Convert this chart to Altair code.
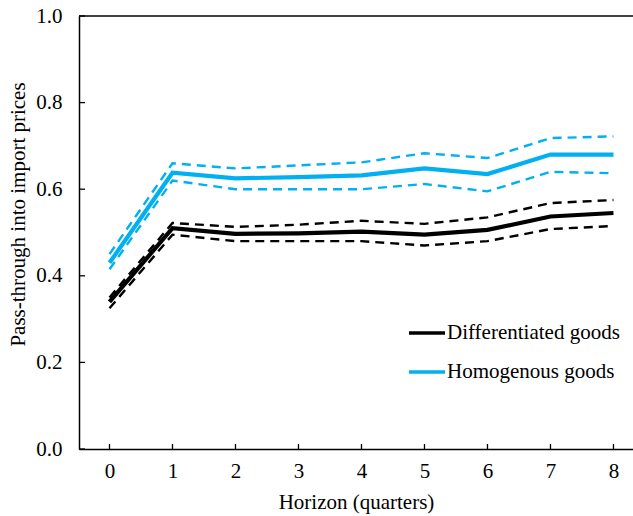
import altair as alt
import pandas as pd

horizon = [0, 1, 2, 3, 4, 5, 6, 7, 8]

diff_center = [0.340, 0.510, 0.497, 0.498, 0.502, 0.495, 0.506, 0.537, 0.545]
diff_upper = [0.350, 0.522, 0.513, 0.518, 0.527, 0.520, 0.535, 0.568, 0.575]
diff_lower = [0.325, 0.495, 0.480, 0.480, 0.480, 0.470, 0.480, 0.508, 0.515]

homo_center = [0.430, 0.638, 0.625, 0.628, 0.632, 0.648, 0.635, 0.680, 0.680]
homo_upper = [0.450, 0.660, 0.648, 0.655, 0.662, 0.683, 0.672, 0.718, 0.722]
homo_lower = [0.415, 0.620, 0.600, 0.600, 0.600, 0.612, 0.595, 0.640, 0.637]

series_names = ["Differentiated goods", "Homogenous goods"]
series_colors = ["#000000", "#00B0F0"]

y_ticks = [0.0, 0.2, 0.4, 0.6, 0.8, 1.0]

FONT = "Liberation Serif"
FS = 21
W, H = 554, 433

center_rows = []
band_rows = []
for name, c, u, l in [
    (series_names[0], diff_center, diff_upper, diff_lower),
    (series_names[1], homo_center, homo_upper, homo_lower),
]:
    for h, cv, uv, lv in zip(horizon, c, u, l):
        center_rows.append({"h": h, "v": cv, "series": name})
        band_rows.append({"h": h, "v": uv, "series": name, "bound": "upper"})
        band_rows.append({"h": h, "v": lv, "series": name, "bound": "lower"})

center_df = pd.DataFrame(center_rows)
band_df = pd.DataFrame(band_rows)

xscale = alt.Scale(domain=[-0.484, 8.31], nice=False, zero=False)
yscale = alt.Scale(domain=[0, 1], nice=False)
cscale = alt.Scale(domain=series_names, range=series_colors)

common = dict(
    grid=False, ticks=False, domainColor="#000", domainWidth=1.5,
    labelFont=FONT, labelFontSize=FS, labelColor="#000",
    titleFont=FONT, titleFontSize=FS, titleFontWeight="normal", titleColor="#000",
)
x_axis = alt.Axis(
    title="Horizon (quarters)", values=horizon, format="d",
    labelPadding=11, titlePadding=10, **common,
)
y_axis = alt.Axis(
    title="Pass-through into import prices", values=y_ticks, format=".1f",
    labelPadding=17, titleX=-61, titleY=198, titleAlign="center",
    titleBaseline="middle", titleAngle=270, **common,
)

legend = alt.Legend(
    title=None, orient="none", legendX=328, legendY=297,
    symbolType="stroke", symbolSize=1300, symbolStrokeWidth=3.5,
    labelFont=FONT, labelFontSize=FS, labelColor="#000",
    labelLimit=400, labelOffset=0, rowPadding=9, padding=0,
)

centers = alt.Chart(center_df).mark_line(strokeWidth=4.2).encode(
    x=alt.X("h:Q", scale=xscale, axis=x_axis),
    y=alt.Y("v:Q", scale=yscale, axis=y_axis),
    color=alt.Color("series:N", scale=cscale, legend=legend),
)

bands = alt.Chart(band_df).mark_line(strokeDash=[9, 6], strokeWidth=2.4).encode(
    x=alt.X("h:Q", scale=xscale, axis=x_axis),
    y=alt.Y("v:Q", scale=yscale, axis=y_axis),
    color=alt.Color("series:N", scale=cscale, legend=legend),
    detail="bound:N",
)

xtick_df = pd.DataFrame({"h": horizon})
xticks = alt.Chart(xtick_df).mark_rule(color="#000", strokeWidth=1.3).encode(
    x=alt.X("h:Q", scale=xscale, axis=x_axis),
    y=alt.value(H),
    y2=alt.value(H - 5),
)

ytick_df = pd.DataFrame({"v": y_ticks})
yticks = alt.Chart(ytick_df).mark_rule(color="#000", strokeWidth=1.3).encode(
    y=alt.Y("v:Q", scale=yscale, axis=y_axis),
    x=alt.value(0),
    x2=alt.value(6),
)

top_border = alt.Chart(pd.DataFrame({"a": [0]})).mark_rule(
    color="#000", strokeWidth=1.5
).encode(x=alt.value(0), x2=alt.value(W), y=alt.value(0))

chart = alt.layer(centers, bands, xticks, yticks, top_border).properties(
    width=W, height=H,
    padding={"left": 79, "top": 16, "right": 0, "bottom": 67},
    autosize=alt.AutoSizeParams(type="none"),
    background="white",
).configure(
    view={"stroke": None},
    axis={"labelFont": FONT, "labelFontSize": FS, "titleFont": FONT, "titleFontSize": FS},
    legend={"labelFont": FONT, "labelFontSize": FS},
    style={"guide-label": {"font": FONT, "fontSize": FS},
           "guide-title": {"font": FONT, "fontSize": FS}},
)

chart.save("out.html", embed_options={"renderer": "svg", "actions": False})
